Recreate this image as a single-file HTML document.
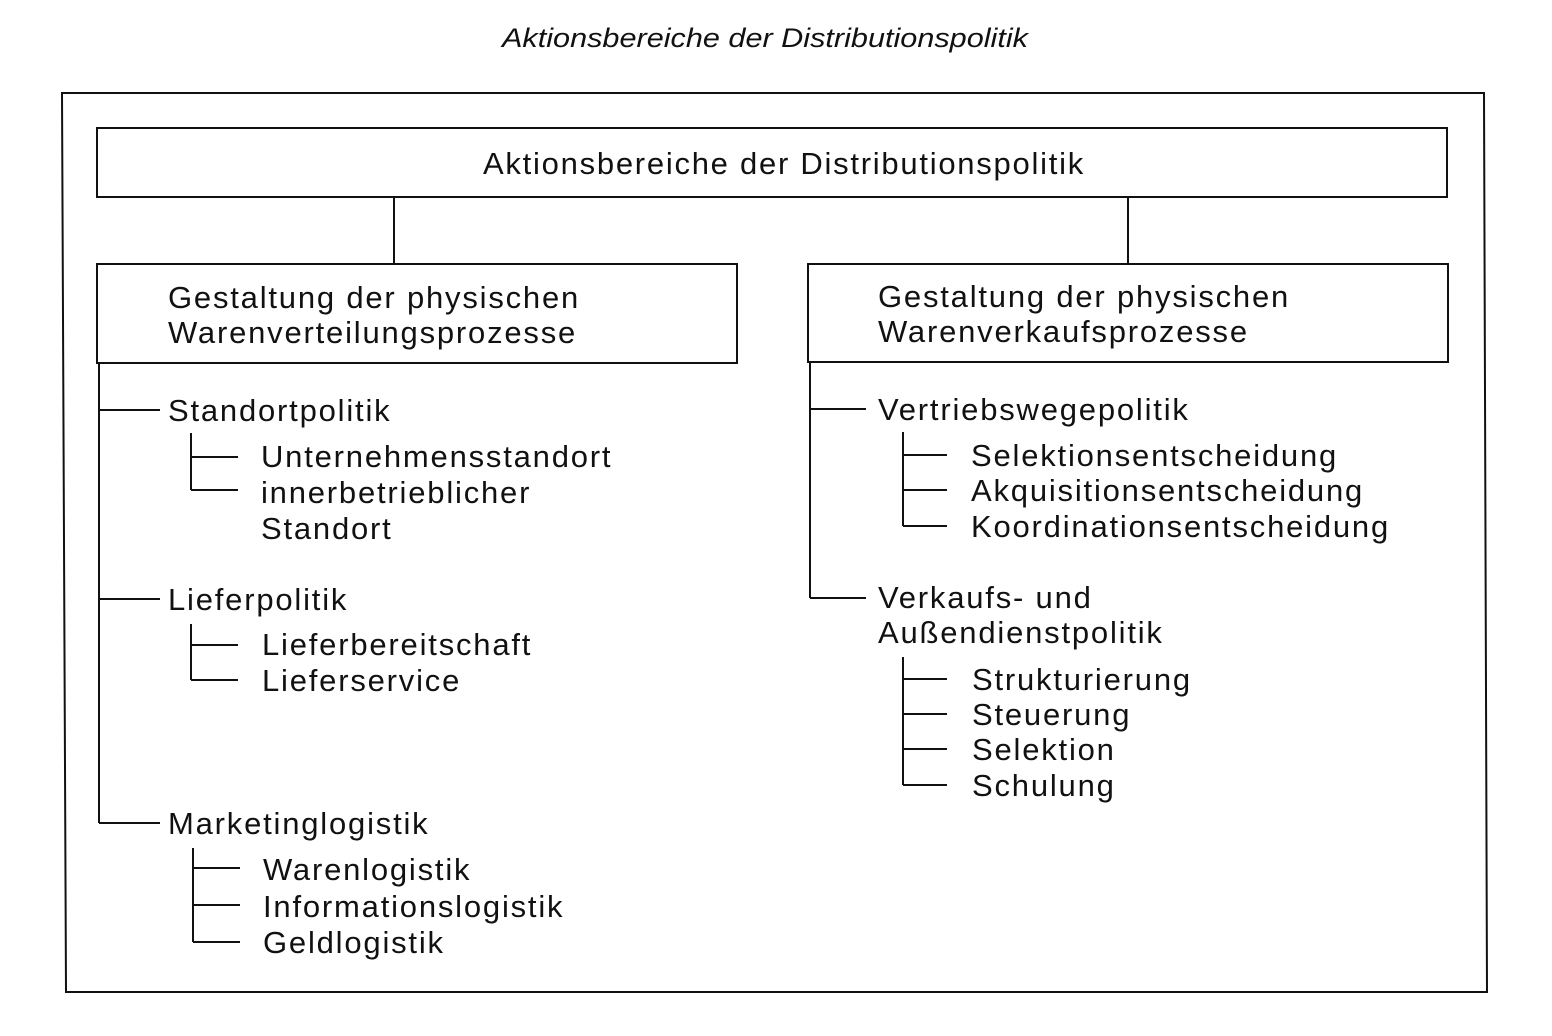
<!DOCTYPE html>
<html><head><meta charset="utf-8"><style>
html,body{margin:0;padding:0;background:#fff;}
svg{display:block;}
text{font-family:"Liberation Sans",sans-serif;font-size:31px;fill:#111;letter-spacing:1.8px;}
</style></head><body>
<svg width="1552" height="1036" viewBox="0 0 1552 1036" xmlns="http://www.w3.org/2000/svg">
<text x="502" y="47" textLength="526" lengthAdjust="spacingAndGlyphs" style="font-style:italic;font-size:27px;letter-spacing:0">Aktionsbereiche der Distributionspolitik</text>
<g fill="none" stroke="#111" stroke-width="2">
<polygon points="62,93 1484,93 1487,992 66,992"/>
<rect x="97" y="128" width="1350" height="69"/>
<line x1="394" y1="197" x2="394" y2="264"/>
<line x1="1128" y1="197" x2="1128" y2="264"/>
<rect x="97" y="264" width="640" height="99"/>
<rect x="808" y="264" width="640" height="98"/>
<line x1="99" y1="363" x2="99" y2="823"/>
<line x1="99" y1="410" x2="160" y2="410"/>
<line x1="99" y1="599" x2="160" y2="599"/>
<line x1="99" y1="823" x2="160" y2="823"/>
<line x1="191" y1="433" x2="191" y2="490"/>
<line x1="191" y1="457" x2="238" y2="457"/>
<line x1="191" y1="490" x2="238" y2="490"/>
<line x1="191" y1="624" x2="191" y2="680"/>
<line x1="191" y1="645" x2="238" y2="645"/>
<line x1="191" y1="680" x2="238" y2="680"/>
<line x1="193" y1="848" x2="193" y2="942"/>
<line x1="193" y1="868" x2="240" y2="868"/>
<line x1="193" y1="905" x2="240" y2="905"/>
<line x1="193" y1="942" x2="240" y2="942"/>
<line x1="810" y1="362" x2="810" y2="598"/>
<line x1="810" y1="409" x2="866" y2="409"/>
<line x1="810" y1="598" x2="866" y2="598"/>
<line x1="903" y1="432" x2="903" y2="526"/>
<line x1="903" y1="455" x2="947" y2="455"/>
<line x1="903" y1="490" x2="947" y2="490"/>
<line x1="903" y1="526" x2="947" y2="526"/>
<line x1="903" y1="657" x2="903" y2="785"/>
<line x1="903" y1="679" x2="947" y2="679"/>
<line x1="903" y1="714" x2="947" y2="714"/>
<line x1="903" y1="749" x2="947" y2="749"/>
<line x1="903" y1="785" x2="947" y2="785"/>
</g>
<text x="483" y="174" textLength="602" lengthAdjust="spacing">Aktionsbereiche der Distributionspolitik</text>
<text x="168" y="308">Gestaltung der physischen</text>
<text x="168" y="343">Warenverteilungsprozesse</text>
<text x="878" y="307">Gestaltung der physischen</text>
<text x="878" y="342">Warenverkaufsprozesse</text>
<text x="168" y="421">Standortpolitik</text>
<text x="261" y="467">Unternehmensstandort</text>
<text x="261" y="503">innerbetrieblicher</text>
<text x="261" y="539">Standort</text>
<text x="168" y="610">Lieferpolitik</text>
<text x="262" y="655">Lieferbereitschaft</text>
<text x="262" y="691">Lieferservice</text>
<text x="168" y="834">Marketinglogistik</text>
<text x="263" y="880">Warenlogistik</text>
<text x="263" y="917">Informationslogistik</text>
<text x="263" y="953">Geldlogistik</text>
<text x="878" y="420">Vertriebswegepolitik</text>
<text x="971" y="466">Selektionsentscheidung</text>
<text x="971" y="501">Akquisitionsentscheidung</text>
<text x="971" y="537">Koordinationsentscheidung</text>
<text x="878" y="608">Verkaufs- und</text>
<text x="878" y="643">Außendienstpolitik</text>
<text x="972" y="690">Strukturierung</text>
<text x="972" y="725">Steuerung</text>
<text x="972" y="760">Selektion</text>
<text x="972" y="796">Schulung</text>
</svg>
</body></html>
